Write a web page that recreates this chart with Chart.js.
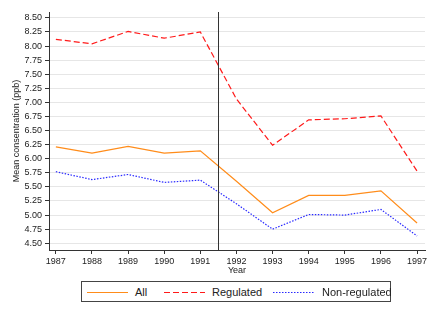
<!DOCTYPE html>
<html>
<head>
<meta charset="utf-8">
<script src="https://cdn.jsdelivr.net/npm/chart.js@4"></script>
<style>
  html, body { margin: 0; padding: 0; background: #fff; }
  #wrap { position: relative; width: 436px; height: 317px; font-family: "Liberation Sans", Arial, sans-serif; }
  #legend { position: absolute; left: 81px; top: 281px; width: 308px; height: 19px; border: 1px solid #444; background: #fff; }
  #legend .item { position: absolute; top: 0; height: 19px; line-height: 20px; font-size: 11px; color: #222; white-space: nowrap; }
  #legend svg { position: absolute; top: 0; }
</style>
</head>
<body>
<div id="wrap">
  <canvas id="chart" width="436" height="317"></canvas>
  <div id="legend"></div>
</div>
<script>
const years = [1987, 1988, 1989, 1990, 1991, 1992, 1993, 1994, 1995, 1996, 1997];
const allValues = [6.21, 6.10, 6.22, 6.10, 6.14, 5.60, 5.04, 5.35, 5.35, 5.43, 4.86];
const regulatedValues = [8.12, 8.04, 8.26, 8.14, 8.25, 7.06, 6.24, 6.69, 6.71, 6.76, 5.78];
const nonRegulatedValues = [5.77, 5.63, 5.72, 5.58, 5.62, 5.20, 4.75, 5.01, 5.00, 5.10, 4.63];
const yTicks = [4.50, 4.75, 5.00, 5.25, 5.50, 5.75, 6.00, 6.25, 6.50, 6.75, 7.00, 7.25, 7.50, 7.75, 8.00, 8.25, 8.50];
const breakYear = 1991.5;

const seriesInfo = [
  { label: "All", values: allValues, color: "#ff8c1a", dash: [] },
  { label: "Regulated", values: regulatedValues, color: "#ff1a1a", dash: [6, 3] },
  { label: "Non-regulated", values: nonRegulatedValues, color: "#2a2aff", dash: [1.5, 1.5] }
];

// vertical line at the break between 1991 and 1992
const breakLine = {
  id: "breakLine",
  afterDatasetsDraw(chart) {
    const x = chart.scales.x.getPixelForValue(breakYear);
    const area = chart.chartArea;
    const ctx = chart.ctx;
    ctx.save();
    ctx.strokeStyle = "#333";
    ctx.lineWidth = 1;
    ctx.beginPath();
    ctx.moveTo(Math.round(x) + 0.5, area.top);
    ctx.lineTo(Math.round(x) + 0.5, area.bottom);
    ctx.stroke();
    ctx.restore();
  }
};

const font = { family: "'Liberation Sans', Arial, sans-serif", size: 9 };

new Chart(document.getElementById("chart"), {
  type: "line",
  data: {
    datasets: seriesInfo.map((s) => ({
      label: s.label,
      data: years.map((yr, i) => ({ x: yr, y: s.values[i] })),
      borderColor: s.color,
      backgroundColor: s.color,
      borderDash: s.dash,
      borderWidth: 1.2,
      pointRadius: 0,
      tension: 0,
      fill: false
    }))
  },
  options: {
    responsive: false,
    animation: false,
    layout: { padding: { top: 12, right: 11, left: 0, bottom: 0 } },
    plugins: {
      legend: { display: false },
      tooltip: { enabled: false }
    },
    scales: {
      x: {
        type: "linear",
        min: 1986.81,
        max: 1997.22,
        afterBuildTicks: (scale) => { scale.ticks = years.map((v) => ({ value: v })); },
        afterFit: (scale) => { scale.height = 67; },
        ticks: { font, color: "#222", padding: 2, maxRotation: 0, autoSkip: false, callback: (v) => String(v) },
        grid: { drawOnChartArea: false, drawTicks: true, tickLength: 4, tickColor: "#333" },
        border: { color: "#333", width: 1 },
        title: { display: true, text: "Year", font, color: "#222", padding: { top: 0, bottom: 41 } }
      },
      y: {
        min: 4.38,
        max: 8.605,
        afterBuildTicks: (scale) => { scale.ticks = yTicks.map((v) => ({ value: v })); },
        afterFit: (scale) => { scale.width = 49; },
        ticks: { font, color: "#222", padding: 3, autoSkip: false, callback: (v) => Number(v).toFixed(2) },
        grid: { color: "#e6e6e6", lineWidth: 1, drawTicks: true, tickLength: 4, tickColor: "#333" },
        border: { color: "#333", width: 1 },
        title: { display: true, text: "Mean consentration (ppb)", font, color: "#222", padding: { top: 11, bottom: 0 } }
      }
    }
  },
  plugins: [breakLine]
});

// legend box below the chart
const legendEl = document.getElementById("legend");
const legendPos = [
  { line: 5, text: 53 },
  { line: 82, text: 130 },
  { line: 191, text: 240 }
];
seriesInfo.forEach((s, i) => {
  const p = legendPos[i];
  const svg = document.createElementNS("http://www.w3.org/2000/svg", "svg");
  svg.setAttribute("width", "42");
  svg.setAttribute("height", "19");
  svg.style.left = p.line + "px";
  const ln = document.createElementNS("http://www.w3.org/2000/svg", "line");
  ln.setAttribute("x1", "0");
  ln.setAttribute("x2", "41");
  ln.setAttribute("y1", "10.5");
  ln.setAttribute("y2", "10.5");
  ln.setAttribute("stroke", s.color);
  ln.setAttribute("stroke-width", "1.2");
  if (s.dash.length) ln.setAttribute("stroke-dasharray", s.dash.join(" "));
  svg.appendChild(ln);
  legendEl.appendChild(svg);
  const span = document.createElement("span");
  span.className = "item";
  span.style.left = p.text + "px";
  span.textContent = s.label;
  legendEl.appendChild(span);
});
</script>
</body>
</html>
